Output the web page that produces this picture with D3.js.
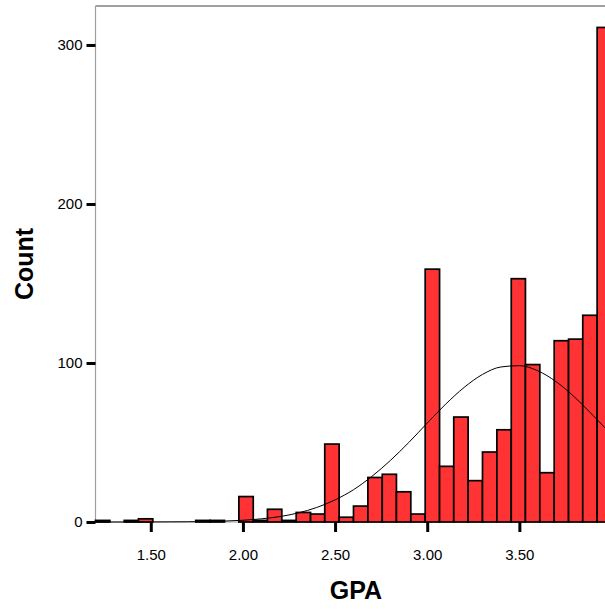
<!DOCTYPE html>
<html>
<head>
<meta charset="utf-8">
<script src="https://cdn.jsdelivr.net/npm/d3@7"></script>
<style>
  html, body { margin: 0; padding: 0; background: #ffffff; }
  svg { display: block; }
  text { font-family: "Liberation Sans", Arial, sans-serif; }
</style>
</head>
<body>
<svg id="chart" width="605" height="609"></svg>
<script>
// ---- data ----
const binLower = [1.200, 1.278, 1.356, 1.433, 1.511, 1.589, 1.667, 1.744, 1.822, 1.900,
                  1.978, 2.056, 2.133, 2.211, 2.289, 2.367, 2.444, 2.522, 2.600, 2.678,
                  2.756, 2.833, 2.911, 2.989, 3.067, 3.144, 3.222, 3.300, 3.378, 3.456,
                  3.533, 3.611, 3.689, 3.767, 3.844, 3.922];
const binMax = 4.0;
const counts = [1, 0, 1, 2, 0, 0, 0, 1, 1, 0,
                16, 1, 8, 1, 6, 5, 49, 3, 10, 28,
                30, 19, 5, 159, 35, 66, 26, 44, 58, 153,
                99, 31, 114, 115, 130, 311];
// normal curve
const curveX = [1.2, 1.3, 1.4, 1.5, 1.6, 1.7, 1.8, 1.9, 2.0, 2.1, 2.2, 2.3, 2.4, 2.5, 2.6,
                2.7, 2.8, 2.9, 3.0, 3.1, 3.2, 3.3, 3.4, 3.5, 3.6, 3.7, 3.8, 3.9, 4.0];
const curveY = [0.0, 0.0, 0.01, 0.03, 0.07, 0.14, 0.3, 0.58, 1.1, 2.0, 3.4, 5.7, 9.1, 13.9, 20.3,
                28.7, 38.7, 50.0, 62.2, 74.1, 84.6, 92.8, 97.5, 98.3, 95.1, 88.2, 78.5, 67.0, 54.9];
const xTicks = [1.5, 2.0, 2.5, 3.0, 3.5];
const yTicks = [0, 100, 200, 300];
const xTitle = "GPA";
const yTitle = "Count";

// ---- layout ----
const plotLeft = 95.5, plotTop = 6, plotBottom = 522, plotRight = 611.5;
const svg = d3.select("#chart");

const x = d3.scaleLinear().domain([1.2, 4.0]).range([plotLeft, plotRight]);
const y = d3.scaleLinear().domain([0, 324.5]).range([plotBottom, plotTop]);

const bins = binLower.map((lo, i) => ({
  lo: lo,
  hi: i < binLower.length - 1 ? binLower[i + 1] : binMax,
  n: counts[i]
}));

// frame (left + top), gray
svg.append("line").attr("x1", plotLeft).attr("x2", plotLeft).attr("y1", plotTop).attr("y2", plotBottom)
  .attr("stroke", "#a0a0a0").attr("stroke-width", 1.2);
svg.append("line").attr("x1", plotLeft).attr("x2", 605).attr("y1", plotTop).attr("y2", plotTop)
  .attr("stroke", "#a0a0a0").attr("stroke-width", 2);
// baseline gray
svg.append("line").attr("x1", plotLeft).attr("x2", 605).attr("y1", plotBottom).attr("y2", plotBottom)
  .attr("stroke", "#a0a0a0").attr("stroke-width", 1.2);

// bars
svg.append("g").selectAll("rect")
  .data(bins.filter(d => d.n > 0))
  .join("rect")
  .attr("x", d => x(d.lo))
  .attr("width", d => x(d.hi) - x(d.lo))
  .attr("y", d => y(d.n))
  .attr("height", d => y(0) - y(d.n))
  .attr("fill", "#ff3333")
  .attr("stroke", "#000000")
  .attr("stroke-width", 1.7);

// normal curve
const line = d3.line()
  .x((d, i) => x(curveX[i]))
  .y(d => y(d))
  .curve(d3.curveMonotoneX);
svg.append("path")
  .datum(curveY)
  .attr("d", line)
  .attr("fill", "none")
  .attr("stroke", "#000000")
  .attr("stroke-width", 1);

// y axis
const yAxis = d3.axisLeft(y).tickValues(yTicks).tickSize(9).tickPadding(4).tickFormat(d3.format("d"));
const gy = svg.append("g").attr("transform", `translate(${plotLeft},0)`).call(yAxis);
gy.select(".domain").remove();
gy.selectAll(".tick line").attr("stroke", "#000").attr("stroke-width", 3);
gy.selectAll(".tick text").attr("fill", "#000").style("font-size", "15px")
  .style("font-family", "'Liberation Sans', Arial, sans-serif");

// x axis
const xAxis = d3.axisBottom(x).tickValues(xTicks).tickSize(10).tickPadding(17).tickFormat(d3.format(".2f"));
const gx = svg.append("g").attr("transform", `translate(0,${plotBottom})`).call(xAxis);
gx.select(".domain").remove();
gx.selectAll(".tick line").attr("stroke", "#000").attr("stroke-width", 3);
gx.selectAll(".tick text").attr("fill", "#000").style("font-size", "15px")
  .style("font-family", "'Liberation Sans', Arial, sans-serif");

// titles
svg.append("text")
  .attr("x", 356).attr("y", 599)
  .attr("text-anchor", "middle")
  .style("font-size", "25px").style("font-weight", "bold")
  .text(xTitle);
svg.append("text")
  .attr("transform", "translate(33,264) rotate(-90)")
  .attr("text-anchor", "middle")
  .style("font-size", "25px").style("font-weight", "bold")
  .text(yTitle);
</script>
</body>
</html>
